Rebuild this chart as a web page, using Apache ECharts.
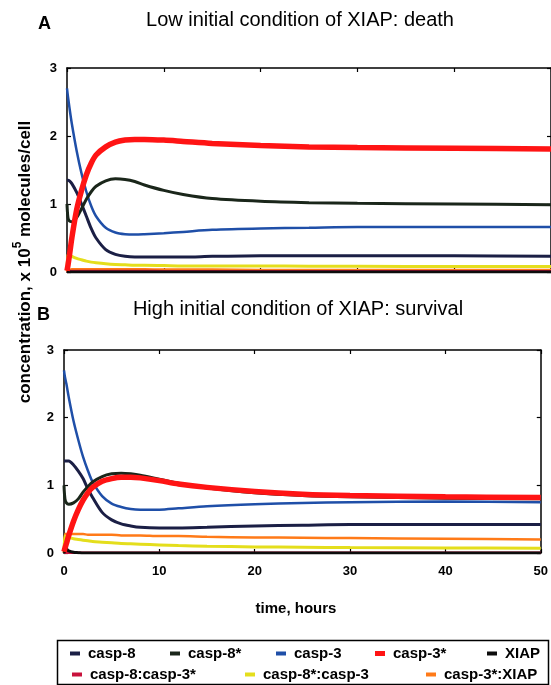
<!DOCTYPE html>
<html>
<head>
<meta charset="utf-8">
<script src="https://cdn.jsdelivr.net/npm/echarts@6/dist/echarts.min.js"></script>
<style>
  html, body { margin: 0; padding: 0; background: #fff; }
  #chart { width: 551px; height: 685px; }
</style>
</head>
<body>
<div id="chart"></div>
<script>
// Time points (hours) shared by every trajectory
const times = [0, 0.1, 0.25, 0.5, 1, 1.5, 2, 2.5, 3, 4, 5, 6, 7, 8, 10, 12, 15, 20, 25, 30, 40, 50];
const xTicks = [0, 10, 20, 30, 40, 50];
const yTicks = [0, 1, 2, 3];

const speciesNames = ['casp-8', 'casp-8*', 'casp-3', 'casp-3*', 'XIAP', 'casp-8:casp-3*', 'casp-8*:casp-3', 'casp-3*:XIAP'];

// Panel A: low initial XIAP (x 10^5 molecules/cell)
const casp8A   = [1.35, 1.35, 1.34, 1.30, 1.17, 1.00, 0.82, 0.64, 0.50, 0.33, 0.26, 0.23, 0.22, 0.22, 0.22, 0.22, 0.23, 0.24, 0.24, 0.24, 0.24, 0.23];
const casp8sA  = [1.00, 0.80, 0.75, 0.74, 0.80, 0.93, 1.07, 1.18, 1.26, 1.34, 1.37, 1.36, 1.33, 1.28, 1.20, 1.14, 1.08, 1.04, 1.02, 1.01, 1.00, 0.99];
const casp3A   = [2.70, 2.58, 2.42, 2.18, 1.78, 1.45, 1.18, 0.97, 0.82, 0.65, 0.58, 0.555, 0.55, 0.555, 0.57, 0.59, 0.62, 0.64, 0.65, 0.66, 0.66, 0.66];
const casp3sA  = [0.02, 0.10, 0.24, 0.50, 0.92, 1.20, 1.43, 1.60, 1.72, 1.84, 1.91, 1.94, 1.95, 1.95, 1.94, 1.92, 1.89, 1.86, 1.84, 1.83, 1.82, 1.81];
const xiapA    = [0, 0, 0, 0, 0, 0, 0, 0, 0, 0, 0, 0, 0, 0, 0, 0, 0, 0, 0, 0, 0, 0];
const c8c3sA   = [0, 0.01, 0.012, 0.015, 0.015, 0.015, 0.015, 0.015, 0.015, 0.015, 0.015, 0.015, 0.015, 0.015, 0.012, 0.012, 0.01, 0.01, 0.01, 0.01, 0.01, 0.01];
const c8sc3A   = [0.02, 0.27, 0.25, 0.23, 0.20, 0.18, 0.16, 0.145, 0.135, 0.12, 0.11, 0.105, 0.10, 0.10, 0.095, 0.09, 0.09, 0.09, 0.085, 0.085, 0.08, 0.08];
const c3sXA    = [0, 0.02, 0.03, 0.04, 0.04, 0.04, 0.04, 0.04, 0.04, 0.04, 0.04, 0.04, 0.04, 0.04, 0.035, 0.035, 0.035, 0.03, 0.03, 0.03, 0.03, 0.03];

// Panel B: high initial XIAP
const casp8B   = [1.36, 1.36, 1.36, 1.36, 1.30, 1.21, 1.10, 0.95, 0.82, 0.60, 0.49, 0.43, 0.40, 0.38, 0.37, 0.37, 0.38, 0.40, 0.41, 0.42, 0.42, 0.42];
const casp8sB  = [1.00, 0.80, 0.74, 0.72, 0.74, 0.80, 0.90, 0.98, 1.05, 1.13, 1.17, 1.18, 1.17, 1.15, 1.09, 1.03, 0.96, 0.89, 0.85, 0.83, 0.81, 0.80];
const casp3B   = [2.70, 2.60, 2.50, 2.30, 1.95, 1.67, 1.42, 1.22, 1.05, 0.84, 0.73, 0.68, 0.65, 0.64, 0.64, 0.66, 0.69, 0.72, 0.74, 0.75, 0.76, 0.75];
const casp3sB  = [0.02, 0.07, 0.14, 0.26, 0.47, 0.64, 0.78, 0.89, 0.97, 1.06, 1.10, 1.12, 1.12, 1.11, 1.07, 1.02, 0.97, 0.91, 0.87, 0.85, 0.83, 0.82];
const xiapB    = [0, 0.03, 0.06, 0.03, 0.01, 0.005, 0, 0, 0, 0, 0, 0, 0, 0, 0, 0, 0, 0, 0, 0, 0, 0];
const c8c3sB   = [0, 0.005, 0.005, 0.005, 0.005, 0.005, 0.005, 0.005, 0.005, 0.005, 0.005, 0.005, 0.005, 0.005, 0.005, 0.005, 0.005, 0.005, 0.005, 0.005, 0.005, 0.005];
const c8sc3B   = [0.02, 0.25, 0.24, 0.23, 0.21, 0.20, 0.19, 0.18, 0.17, 0.16, 0.15, 0.14, 0.135, 0.13, 0.12, 0.11, 0.10, 0.09, 0.085, 0.08, 0.075, 0.07];
const c3sXB    = [0, 0.28, 0.28, 0.28, 0.28, 0.28, 0.28, 0.27, 0.27, 0.27, 0.27, 0.26, 0.26, 0.26, 0.25, 0.25, 0.24, 0.23, 0.225, 0.22, 0.21, 0.20];

const colors = {
  'casp-8': '#1b1f45',
  'casp-8*': '#1a261a',
  'casp-3': '#1f4fa8',
  'casp-3*': '#ff1414',
  'XIAP': '#0c0c0c',
  'casp-8:casp-3*': '#c8123c',
  'casp-8*:casp-3': '#e4de1c',
  'casp-3*:XIAP': '#ff7a18'
};
const widths = {
  'casp-8': 3, 'casp-8*': 3, 'casp-3': 2.5, 'casp-3*': 5.5, 'XIAP': 3,
  'casp-8:casp-3*': 2.5, 'casp-8*:casp-3': 3, 'casp-3*:XIAP': 2.5
};

const panelA = {
  'casp-8': casp8A, 'casp-8*': casp8sA, 'casp-3': casp3A, 'casp-3*': casp3sA,
  'XIAP': xiapA, 'casp-8:casp-3*': c8c3sA, 'casp-8*:casp-3': c8sc3A, 'casp-3*:XIAP': c3sXA
};
const panelB = {
  'casp-8': casp8B, 'casp-8*': casp8sB, 'casp-3': casp3B, 'casp-3*': casp3sB,
  'XIAP': xiapB, 'casp-8:casp-3*': c8c3sB, 'casp-8*:casp-3': c8sc3B, 'casp-3*:XIAP': c3sXB
};

// drawing order: thin complexes first, thick casp-3* last
const drawOrder = ['casp-3*:XIAP', 'casp-8*:casp-3', 'casp-8:casp-3*', 'XIAP', 'casp-3', 'casp-8', 'casp-8*', 'casp-3*'];

const FONT = '"Liberation Sans", Arial, sans-serif';

function pairs(vals) { return times.map((t, i) => [t, vals[i]]); }

const series = [];
[[panelA, 0, 0], [panelB, 2, 2]].forEach(([panel, xi, yi]) => {
  drawOrder.forEach(name => {
    series.push({
      type: 'line',
      name: name,
      xAxisIndex: xi,
      yAxisIndex: yi,
      data: pairs(panel[name]),
      smooth: 0.3,
      showSymbol: false,
      symbol: 'none',
      clip: true,
      lineStyle: { color: colors[name], width: widths[name] },
      itemStyle: { color: colors[name] },
      emphasis: { disabled: true },
      animation: false
    });
  });
});

function xAxisDef(grid, pos, labels) {
  return {
    type: 'value', gridIndex: grid, position: pos, min: 0, max: 50, interval: 10,
    axisLine: { show: true, onZero: false, lineStyle: { color: '#000', width: 1.5 } },
    axisTick: { show: true, inside: true, length: 4, lineStyle: { color: '#000', width: 1.2 } },
    axisLabel: labels ? { show: true, color: '#000', fontFamily: FONT, fontWeight: 'bold', fontSize: 13, margin: 12,
      formatter: v => xTicks.includes(v) ? String(v) : '' } : { show: false },
    splitLine: { show: false }
  };
}
function yAxisDef(grid, pos, labels) {
  return {
    type: 'value', gridIndex: grid, position: pos, min: 0, max: 3, interval: 1,
    axisLine: { show: true, onZero: false, lineStyle: { color: '#000', width: 1.5 } },
    axisTick: { show: true, inside: true, length: 4, lineStyle: { color: '#000', width: 1.2 } },
    axisLabel: labels ? { show: true, color: '#000', fontFamily: FONT, fontWeight: 'bold', fontSize: 13, margin: 10,
      formatter: v => yTicks.includes(v) ? String(v) : '' } : { show: false },
    splitLine: { show: false }
  };
}

// legend entries positioned in two rows
const legendSlots = [
  ['casp-8', 70, 646], ['casp-8*', 170, 646], ['casp-3', 276, 646], ['casp-3*', 375, 646], ['XIAP', 487, 646],
  ['casp-8:casp-3*', 72, 667], ['casp-8*:casp-3', 245, 667], ['casp-3*:XIAP', 426, 667]
];
const legends = legendSlots.map(([name, x, y]) => ({
  data: [{ name: name, icon: 'rect', itemStyle: { color: colors[name] } }],
  left: x, top: y,
  itemWidth: 10, itemHeight: name === 'casp-3*' ? 5 : 4,
  itemGap: 0,
  selectedMode: false,
  padding: 0,
  textStyle: { color: '#000', fontFamily: FONT, fontSize: 15, fontWeight: 'bold', padding: [0, 0, 0, 3] }
}));

const option = {
  backgroundColor: '#fff',
  animation: false,
  grid: [
    { left: 67, top: 68, width: 488, height: 204 },
    { left: 64, top: 350, width: 484, height: 203 }
  ],
  xAxis: [xAxisDef(0, 'bottom', false), xAxisDef(0, 'top', false), xAxisDef(1, 'bottom', true), xAxisDef(1, 'top', false)],
  yAxis: [yAxisDef(0, 'left', true), yAxisDef(0, 'right', false), yAxisDef(1, 'left', true), yAxisDef(1, 'right', false)],
  legend: legends,
  series: series,
  graphic: [
    { type: 'text', left: 38, top: 15, style: { text: 'A', font: 'bold 18px ' + FONT, fill: '#000' } },
    { type: 'text', left: 37, top: 306, style: { text: 'B', font: 'bold 18px ' + FONT, fill: '#000' } },
    { type: 'text', x: 300, y: 20, style: { text: 'Low initial condition of XIAP: death', font: '20px ' + FONT, fill: '#000', align: 'center', verticalAlign: 'middle' } },
    { type: 'text', x: 298, y: 309, style: { text: 'High initial condition of XIAP: survival', font: '20px ' + FONT, fill: '#000', align: 'center', verticalAlign: 'middle' } },
    { type: 'text', x: 23, y: 262, rotation: Math.PI / 2,
      style: {
        text: '{a|concentration, x 10}{s|5}{a| molecules/cell}',
        align: 'center', verticalAlign: 'middle',
        rich: {
          a: { font: 'bold 17px ' + FONT, fill: '#000', lineHeight: 22, verticalAlign: 'bottom' },
          s: { font: 'bold 12px ' + FONT, fill: '#000', lineHeight: 22, verticalAlign: 'top' }
        }
      } },
    { type: 'text', x: 296, y: 609, style: { text: 'time, hours', font: 'bold 15px ' + FONT, fill: '#000', align: 'center', verticalAlign: 'middle' } },
    { type: 'rect', shape: { x: 57.5, y: 640.5, width: 491, height: 44 }, style: { fill: 'none', stroke: '#000', lineWidth: 1.5 }, z: 10 }
  ]
};

const chart = echarts.init(document.getElementById('chart'), null, { renderer: 'canvas' });
chart.setOption(option);
</script>
</body>
</html>
